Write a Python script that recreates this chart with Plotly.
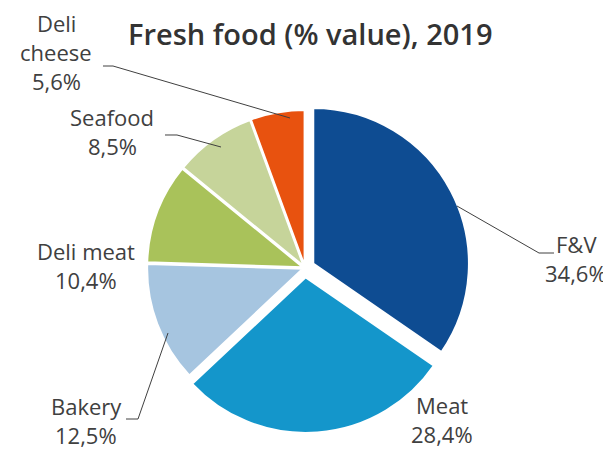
import plotly.graph_objects as go

categories = ["F&V", "Meat", "Bakery", "Deli meat", "Seafood", "Deli cheese"]
values = [34.6, 28.4, 12.5, 10.4, 8.5, 5.6]
value_labels = ["34,6%", "28,4%", "12,5%", "10,4%", "8,5%", "5,6%"]
colors = ["#0E4C92", "#1496CB", "#A6C5E0", "#A9C25A", "#C6D49A", "#E8520F"]
pulls = [0.06, 0.06, 0.015, 0.015, 0.015, 0.015]

W, H = 611, 449
FONT = "Open Sans, sans-serif"
LINE = 29  # line spacing of the label blocks, px

fig = go.Figure(go.Pie(
    labels=categories,
    values=values,
    marker=dict(colors=colors, line=dict(color="white", width=2)),
    pull=pulls,
    sort=False,
    direction="clockwise",
    rotation=0,
    textinfo="none",
    hoverinfo="label+percent",
    showlegend=False,
    domain=dict(x=[131 / W, 463 / W], y=[(H - 425) / H, (H - 95) / H]),
))

# label positions (pixels): centre x, centre y of first line
label_pos = {
    "F&V": (568, 236),
    "Meat": (434, 397),
    "Bakery": (78, 398),
    "Deli meat": (78, 243),
    "Seafood": (104, 109),
    "Deli cheese": (48, 15),
}
label_lines = {
    "Deli cheese": ["Deli", "cheese"],
}
annotations = []
for cat, vl in zip(categories, value_labels):
    x, y = label_pos[cat]
    lines = label_lines.get(cat, [cat]) + [vl]
    for i, t in enumerate(lines):
        annotations.append(dict(
            x=x / W, y=1 - (y + i * LINE) / H, xref="paper", yref="paper",
            text=t, showarrow=False, align="center", borderpad=0,
            font=dict(family=FONT, size=22, color="#404040"),
            xanchor="center", yanchor="middle",
        ))

annotations.append(dict(
    x=302 / W, y=1 - 25 / H, xref="paper", yref="paper",
    text="Fresh food (% value), 2019", showarrow=False,
    font=dict(family=FONT, size=29, color="#333333", weight=600),
    xanchor="center", yanchor="middle",
))

leaders = [
    [(95, 58), (105, 58), (282, 110)],
    [(157, 127), (169, 127), (213, 139)],
    [(449, 198), (531, 245), (546, 245)],
    [(118, 411), (130, 411), (160, 325)],
]
shapes = []
for pts in leaders:
    path = "M " + " L ".join(f"{px / W:.5f},{1 - py / H:.5f}" for px, py in pts)
    shapes.append(dict(type="path", path=path, xref="paper", yref="paper",
                       line=dict(color="#404040", width=1)))

fig.update_layout(
    width=W, height=H,
    margin=dict(l=0, r=0, t=0, b=0),
    paper_bgcolor="white", plot_bgcolor="white",
    annotations=annotations,
    shapes=shapes,
)

fig.write_html("out.html")
